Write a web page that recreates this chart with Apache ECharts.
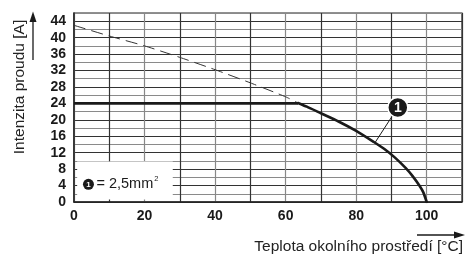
<!DOCTYPE html>
<html>
<head>
<meta charset="utf-8">
<script src="https://cdn.jsdelivr.net/npm/echarts@6/dist/echarts.min.js"></script>
<style>
html,body{margin:0;padding:0;background:#fff;}
#c{width:465px;height:255px;}
</style>
</head>
<body>
<div id="c"></div>
<script>
// ---- data ----
const xTickLabels = ['0', '20', '40', '60', '80', '100'];
const yTickLabels = ['0', '4', '8', '12', '16', '20', '24', '28', '32', '36', '40', '44'];

// dashed theoretical derating line (above the 24 A limit)
const dashedT = [0, 10, 20, 30, 40, 50, 60, 63.5];
const dashedI = [43.0, 40.4, 38.0, 35.2, 32.2, 29.0, 25.6, 24.1];

// 24 A plateau (solid, thick)
const plateauT = [0, 63.5];
const plateauI = [24, 24];

// solid derating curve
const curveT = [63.5, 66, 70, 75, 80, 85, 88, 91, 94, 96, 98, 99, 100];
const curveI = [24.1, 23.2, 21.6, 19.6, 17.3, 14.6, 12.9, 10.8, 8.3, 6.3, 3.9, 2.4, 0];

// annotation
const noteLabel = '1';
const legendText = '= 2,5mm';
const legendSup = '2';
const yTitle = 'Intenzita proudu [A]';
const xTitle = 'Teplota okolního prostředí [°C]';

const zip = (a, b) => a.map((v, i) => [v, b[i]]);

const FONT = 'Liberation Sans';
const chart = echarts.init(document.getElementById('c'), null, {renderer: 'canvas'});

const option = {
  animation: false,
  backgroundColor: '#fff',
  grid: {left: 74, right: 1, top: 13, bottom: 53, show: true, borderColor: '#222', borderWidth: 1.2, backgroundColor: 'transparent'},
  xAxis: {
    type: 'value', min: 0, max: 110, interval: 10,
    axisLine: {show: true, lineStyle: {color: '#222', width: 1.5}},
    axisTick: {show: false},
    axisLabel: {
      margin: 7, fontFamily: FONT, fontSize: 14, fontWeight: 'bold', color: '#1a1a1a',
      formatter: v => xTickLabels.includes(String(v)) ? String(v) : ''
    },
    splitLine: {show: true, lineStyle: {color: ['#888', '#333'], width: 1.2}}
  },
  yAxis: {
    type: 'value', min: 0, max: 46, interval: 2,
    axisLine: {show: true, lineStyle: {color: '#222', width: 1.5}},
    axisTick: {show: false},
    axisLabel: {
      margin: 8, fontFamily: FONT, fontSize: 14, fontWeight: 'bold', color: '#1a1a1a',
      formatter: v => yTickLabels.includes(String(v)) ? String(v) : ''
    },
    splitLine: {show: true, lineStyle: {color: ['#333', '#8a8a8a'], width: 1.2}}
  },
  series: [
    {
      type: 'line', data: zip(dashedT, dashedI), symbol: 'none', smooth: 0.2,
      lineStyle: {color: '#333', width: 1, type: [12, 6]}, z: 3
    },
    {
      type: 'line', data: zip(plateauT, plateauI), symbol: 'none',
      lineStyle: {color: '#1a1a1a', width: 2.6}, z: 4,
      markArea: {
        silent: true,
        itemStyle: {color: '#fff', opacity: 1},
        data: [[{coord: [0.9, 0.6]}, {coord: [28, 9.85]}]]
      }
    },
    {
      type: 'line', data: zip(curveT, curveI), symbol: 'none', smooth: 0.2,
      lineStyle: {color: '#1a1a1a', width: 2.6, join: 'round', cap: 'round'}, z: 4
    }
  ]
};
chart.setOption(option);

const px = (x, y) => chart.convertToPixel({gridIndex: 0}, [x, y]);
const lg = px(4.1, 4.3);
const nc = px(91.8, 23.0);
const cp = px(85.3, 14.4);
const dx = cp[0] - nc[0], dy = cp[1] - nc[1], dl = Math.hypot(dx, dy);
const R = 10;

chart.setOption({
  graphic: [
    // legend marker
    {type: 'circle', shape: {cx: lg[0], cy: lg[1], r: 5.5}, style: {fill: '#1a1a1a'}, z: 100},
    {type: 'text', x: lg[0], y: lg[1] + 0.5, style: {text: noteLabel, fill: '#fff', font: 'bold 8px ' + FONT, align: 'center', verticalAlign: 'middle'}, z: 101},
    {type: 'text', x: lg[0] + 8, y: lg[1], style: {
      text: '{a|' + legendText + '}{s|' + legendSup + '}',
      verticalAlign: 'middle', align: 'left',
      rich: {
        a: {fontFamily: FONT, fontSize: 14.5, fill: '#1a1a1a', color: '#1a1a1a'},
        s: {fontFamily: FONT, fontSize: 7.5, color: '#1a1a1a', fill: '#1a1a1a', verticalAlign: 'top', padding: [0, 0, 10, 1]}
      }
    }, z: 101},
    // curve annotation
    {type: 'line', shape: {x1: nc[0] + dx / dl * R, y1: nc[1] + dy / dl * R, x2: cp[0], y2: cp[1]}, style: {stroke: '#1a1a1a', lineWidth: 1}, z: 100},
    {type: 'circle', shape: {cx: nc[0], cy: nc[1], r: R}, style: {fill: '#1a1a1a', stroke: '#fff', lineWidth: 1.5}, z: 100},
    {type: 'text', x: nc[0], y: nc[1] + 1, style: {text: noteLabel, fill: '#fff', font: 'bold 14px ' + FONT, align: 'center', verticalAlign: 'middle'}, z: 101},
    // axis titles
    {type: 'text', x: 20, y: 87, rotation: Math.PI / 2, style: {text: yTitle, fill: '#222', font: '15.5px ' + FONT, align: 'center', verticalAlign: 'middle'}, z: 100},
    {type: 'text', x: 463, y: 247, style: {text: xTitle, fill: '#222', font: '15.5px ' + FONT, align: 'right', verticalAlign: 'middle'}, z: 100},
    // arrows
    {type: 'line', shape: {x1: 33, y1: 60, x2: 33, y2: 20}, style: {stroke: '#1a1a1a', lineWidth: 1.3}, z: 100},
    {type: 'polygon', shape: {points: [[33, 11.5], [29.5, 22], [36.5, 22]]}, style: {fill: '#1a1a1a'}, z: 100},
    {type: 'line', shape: {x1: 417, y1: 235, x2: 456, y2: 235}, style: {stroke: '#1a1a1a', lineWidth: 1.3}, z: 100},
    {type: 'polygon', shape: {points: [[465, 235], [454, 231.5], [454, 238.5]]}, style: {fill: '#1a1a1a'}, z: 100}
  ]
});
</script>
</body>
</html>
